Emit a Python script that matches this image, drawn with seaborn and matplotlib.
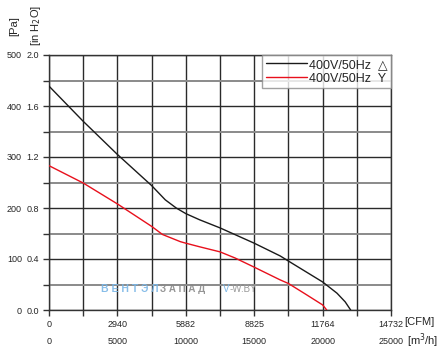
#!/usr/bin/env python3

from matplotlib import pyplot as plt
import numpy as np
import pandas as pd
import seaborn as sns

# fan curves, airflow in m3/h, pressure in Pa
flow_delta = [0, 2500, 5000, 7500, 8500, 9300, 10000, 11000, 12500, 15000,
              16900, 17500, 20000, 21050, 21650, 22050]
pa_delta = [439, 370, 305, 244, 216, 200, 189, 177, 161, 131,
            106, 96, 55, 33, 16, 0]
flow_star = [0, 2500, 5000, 7500, 8300, 9600, 10000, 11000, 12500, 13600,
             15000, 16900, 17500, 18700, 20000, 20300]
pa_star = [283, 249, 208, 164, 148, 134, 131, 124, 114, 102,
           84, 59, 52, 32, 10, 0]

x_ticks = [0, 5000, 10000, 15000, 20000, 25000]
cfm_labels = ["0", "2940", "5882", "8825", "11764", "14732"]
m3h_labels = ["0", "5000", "10000", "15000", "20000", "25000"]
y_ticks = [0, 100, 200, 300, 400, 500]
inh2o_labels = ["0.0", "0.4", "0.8", "1.2", "1.6", "2.0"]
pa_labels = ["0", "100", "200", "300", "400", "500"]
legend_labels = ["400V/50Hz  \u25b3", "400V/50Hz  Y"]


def main():
    df = pd.concat([
        pd.DataFrame({"flow": flow_delta, "pa": pa_delta, "curve": legend_labels[0]}),
        pd.DataFrame({"flow": flow_star, "pa": pa_star, "curve": legend_labels[1]}),
    ])

    sns.set_style("white")
    plt.rcParams["font.family"] = ["Liberation Sans", "DejaVu Sans"]

    fig = plt.figure(figsize=(4.46, 3.51), dpi=100)
    ax = fig.add_axes([49 / 446, 1 - 310 / 351, 342 / 446, 255 / 351])

    sns.lineplot(
            df, x="flow", y="pa", hue="curve", ax=ax, sort=False,
            palette=["#1a1a1a", "#e8101c"], linewidth=1.0, zorder=3,
            )

    ax.set_xlim(0, 25000)
    ax.set_ylim(0, 500)
    ax.set_xlabel("")
    ax.set_ylabel("")

    ax.set_xticks(x_ticks, cfm_labels)
    ax.set_xticks(np.arange(2500, 25000, 5000), minor=True)
    ax.set_yticks(y_ticks, inh2o_labels)
    ax.set_yticks(np.arange(50, 500, 100), minor=True)
    ax.tick_params(which="both", direction="out", length=4, width=1,
                   color="#333333", labelsize=6.5, pad=3, bottom=True, left=True)

    ax.grid(which="major", axis="both", color="#2a2a2a", linewidth=1.0, zorder=1)
    ax.grid(which="minor", axis="y", color="#8a8a8a", linewidth=1.4, zorder=1)
    ax.grid(which="minor", axis="x", color="#2a2a2a", linewidth=1.0, zorder=1)
    for s in ax.spines.values():
        s.set_color("#333333")
        s.set_linewidth(1.0)

    # second rows of labels: m3/h under CFM, Pa left of inH2O
    sec_x = ax.secondary_xaxis(-23 / 255)
    sec_x.set_xticks(x_ticks, m3h_labels)
    sec_x.tick_params(length=0, labelsize=6.5, pad=3)
    sec_x.spines["bottom"].set_visible(False)

    sec_y = ax.secondary_yaxis(-23 / 342)
    sec_y.set_yticks(y_ticks, pa_labels)
    sec_y.tick_params(length=0, labelsize=6.5, pad=3)
    sec_y.spines["left"].set_visible(False)

    fig.text(404 / 446, 1 - 322 / 351, "[CFM]", fontsize=8, ha="left", va="center")
    fig.text(407 / 446, 1 - 341 / 351, "[m$^3$/h]", fontsize=8, ha="left", va="center")
    fig.text(14 / 446, 1 - 26 / 351, "[Pa]", fontsize=8, rotation=90,
             ha="center", va="center")
    fig.text(36 / 446, 1 - 25 / 351, "[in H$_2$O]", fontsize=8, rotation=90,
             ha="center", va="center")

    # watermark
    ax.text(3800, 41, "В Е Н Т Э Л", color="#7ab6e6", fontsize=7.5,
            fontweight="bold", va="center", ha="left", zorder=2, alpha=0.9)
    ax.text(8100, 41, "З А П А Д", color="#8a8a8a", fontsize=7,
            fontweight="bold", va="center", ha="left", zorder=2, alpha=0.9)
    ax.text(12700, 41, "V", color="#7ab6e6", fontsize=7, va="center", ha="left", zorder=2)
    ax.text(13200, 41, "-W.BY", color="#9a9a9a", fontsize=7, va="center", ha="left", zorder=2)

    leg = ax.legend(
            loc="upper right", borderaxespad=0, fontsize=9, frameon=True,
            handlelength=3.3, handletextpad=0.1, labelspacing=0.15,
            borderpad=0.3, fancybox=False, shadow=False,
            )
    leg.get_frame().set_edgecolor("#8a8a8a")
    leg.get_frame().set_linewidth(1.0)
    leg.set_zorder(5)

    plt.savefig("out.png", dpi=100)


if __name__ == "__main__":
    main()
